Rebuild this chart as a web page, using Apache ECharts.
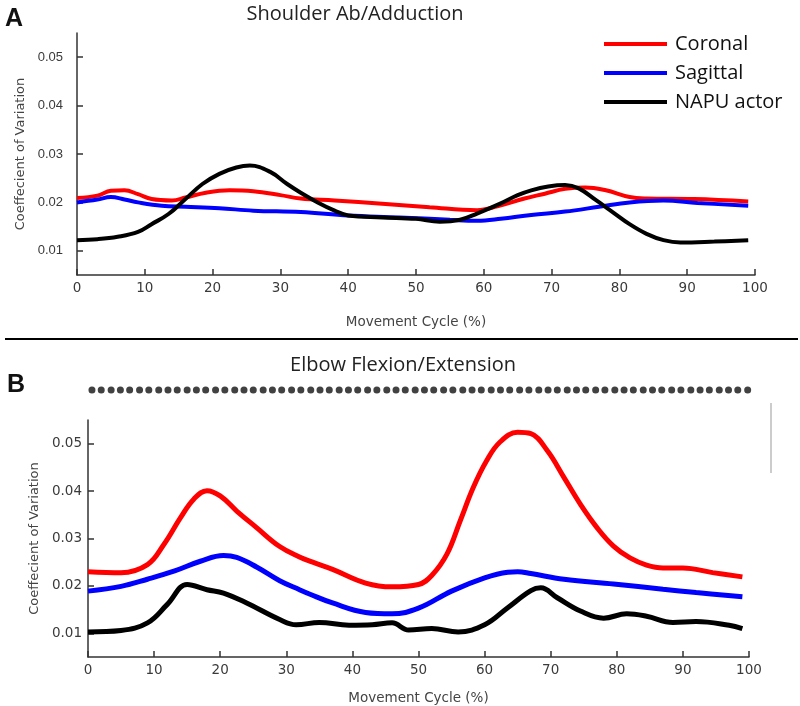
<!DOCTYPE html>
<html>
<head>
<meta charset="utf-8">
<script src="https://cdn.jsdelivr.net/npm/echarts@6/dist/echarts.min.js"></script>
<style>
  html, body { margin: 0; padding: 0; background: #fff; }
  #chart { width: 800px; height: 706px; }
</style>
</head>
<body>
<div id="chart"></div>
<script>
// ---- data: [movement cycle %, coefficient of variation] ----
const seriesNames = ['Coronal', 'Sagittal', 'NAPU actor']
const seriesColors = ['#ff0000', '#0000ff', '#000000']

// A: shoulder ab/adduction
const shoulderCoronal = [
  [0, 0.0209], [3, 0.0214], [5, 0.0224], [7, 0.0225], [9, 0.0217], [11, 0.0207], [14, 0.0204],
  [16, 0.0210], [19, 0.0220], [22.5, 0.0225], [26, 0.0223], [30, 0.0215], [33, 0.0208], [38, 0.0204],
  [45, 0.0197], [52, 0.0190], [59, 0.0184], [62, 0.0192], [66, 0.0208], [69, 0.0218], [72, 0.0228],
  [75, 0.0231], [78, 0.0225], [81.5, 0.0211], [84, 0.0208], [91, 0.0207], [99, 0.0202]
]
const shoulderSagittal = [
  [0, 0.0200], [3, 0.0206], [5, 0.0211], [7, 0.0206], [9, 0.0200], [12.5, 0.0193], [16, 0.0191],
  [21, 0.0188], [26, 0.0183], [33, 0.0180], [40, 0.0173], [47.5, 0.0169], [55, 0.0164], [59, 0.0162],
  [62.5, 0.0166], [67, 0.0174], [72, 0.0181], [77, 0.0191], [81.5, 0.0200], [86.5, 0.0204],
  [91.5, 0.0199], [99, 0.0193]
]
const shoulderNapu = [
  [0, 0.0122], [3, 0.0124], [6, 0.0129], [9, 0.0139], [11, 0.0155], [13.5, 0.0176], [16, 0.0207],
  [18.5, 0.0238], [21, 0.0259], [23.5, 0.0272], [25.5, 0.0276], [28.5, 0.0263], [31, 0.0238],
  [33, 0.0220], [35.5, 0.0200], [38, 0.0183], [40, 0.0173], [45, 0.0169], [50, 0.0166], [53.5, 0.0160],
  [56.5, 0.0164], [59, 0.0177], [62.5, 0.0198], [65, 0.0215], [67, 0.0225], [69.5, 0.0233], [72, 0.0236],
  [74, 0.0229], [76.5, 0.0205], [79, 0.0180], [81.5, 0.0155], [84, 0.0135], [86.5, 0.0122], [89, 0.0117],
  [94, 0.0119], [99, 0.0122]
]

// B: elbow flexion/extension
const elbowCoronal = [
  [0, 0.0230], [5, 0.0228], [9, 0.0245], [11.5, 0.0288], [14, 0.0344], [16, 0.0383], [18, 0.0401],
  [20, 0.0390], [22.5, 0.0358], [25.5, 0.0323], [29, 0.0283], [32, 0.0261], [34, 0.0250], [37, 0.0235],
  [42, 0.0206], [46, 0.0198], [50, 0.0203], [52, 0.0222], [54.3, 0.0267], [56.3, 0.0337], [58.3, 0.0408],
  [60.3, 0.0464], [62.3, 0.0503], [65, 0.0524], [67, 0.0521], [69.5, 0.0485], [72, 0.0429], [74.5, 0.0372],
  [77, 0.0323], [79.5, 0.0284], [82, 0.0259], [84.5, 0.0244], [87, 0.0238], [90, 0.0238], [94.5, 0.0228],
  [99, 0.0219]
]
const elbowSagittal = [
  [0, 0.0189], [5, 0.0199], [9, 0.0214], [13, 0.0231], [17, 0.0252], [20.5, 0.0264], [22.5, 0.0260],
  [25.5, 0.0240], [29, 0.0211], [32, 0.0192], [33.5, 0.0183], [37, 0.0164], [42, 0.0144], [46, 0.0141],
  [50, 0.0153], [55, 0.0189], [60, 0.0217], [63.5, 0.0229], [65, 0.0230], [67, 0.0226], [72, 0.0214],
  [79.5, 0.0204], [87, 0.0193], [92, 0.0186], [99, 0.0177]
]
const elbowNapu = [
  [0, 0.0103], [5, 0.0106], [9, 0.0122], [12, 0.0161], [15, 0.0203], [18, 0.0192], [20.5, 0.0185],
  [24, 0.0164], [29, 0.0129], [31.5, 0.0118], [35, 0.0123], [39.5, 0.0117], [43, 0.0118], [46, 0.0122],
  [48.5, 0.0107], [52, 0.0110], [56, 0.0103], [60, 0.0118], [63.5, 0.0154], [67, 0.0190], [68.5, 0.0196],
  [71, 0.0175], [74.5, 0.0147], [78, 0.0132], [81.5, 0.0141], [84.5, 0.0136], [88.5, 0.0123], [92, 0.0125],
  [97, 0.0117], [99, 0.0110]
]

// significance markers above panel B (x positions, %)
const elbowSignificant = [
  0.6, 2.0, 3.5, 4.9, 6.3, 7.8, 9.2, 10.7, 12.1, 13.5, 15.0, 16.4, 17.8, 19.3, 20.7, 22.2, 23.6, 25.0,
  26.5, 27.9, 29.3, 30.8, 32.2, 33.7, 35.1, 36.5, 38.0, 39.4, 40.8, 42.3, 43.7, 45.2, 46.6, 48.0, 49.5,
  50.9, 52.3, 53.8, 55.2, 56.7, 58.1, 59.5, 61.0, 62.4, 63.8, 65.3, 66.7, 68.2, 69.6, 71.0, 72.5, 73.9,
  75.3, 76.8, 78.2, 79.7, 81.1, 82.5, 84.0, 85.4, 86.8, 88.3, 89.7, 91.2, 92.6, 94.0, 95.5, 96.9, 98.3, 99.8
]

const yTicks = [0.01, 0.02, 0.03, 0.04, 0.05]

const axisFont = 'DejaVu Sans'
const axisColor = '#3a3a3a'

const makeX = (gridIndex, nameGap, labelMargin) => ({
  type: 'value', gridIndex, min: 0, max: 100, interval: 10,
  name: 'Movement Cycle (%)', nameLocation: 'middle', nameGap,
  nameTextStyle: { color: '#444', fontFamily: axisFont, fontSize: 13.5 },
  axisLine: { show: true, lineStyle: { color: '#333', width: 1.5 } },
  axisTick: { show: true, inside: true, length: 6, lineStyle: { color: '#333', width: 1.5 } },
  axisLabel: { color: axisColor, fontFamily: axisFont, fontSize: 13.5, margin: labelMargin,
    showMinLabel: true, showMaxLabel: true },
  splitLine: { show: false }
})

const makeY = (gridIndex, nameGap, labelMargin, labelFont, labelSize) => ({
  type: 'value', gridIndex, min: 0.005, max: 0.055,
  name: 'Coeffecient of Variation', nameLocation: 'middle', nameGap,
  nameTextStyle: { color: '#444', fontFamily: axisFont, fontSize: 13 },
  axisLine: { show: true, lineStyle: { color: '#333', width: 1.5 } },
  axisTick: { show: true, inside: true, length: 6, customValues: yTicks, lineStyle: { color: '#333', width: 1.5 } },
  axisLabel: { color: axisColor, fontFamily: labelFont, fontSize: labelSize, margin: labelMargin,
    customValues: yTicks, formatter: v => v.toFixed(2) },
  splitLine: { show: false }
})

const lineSeries = (name, data, color, idx, width) => ({
  name, type: 'line', data, xAxisIndex: idx, yAxisIndex: idx,
  smooth: 0.4, showSymbol: false, symbol: 'none', silent: true,
  lineStyle: { color, width }, itemStyle: { color }
})

const chart = echarts.init(document.getElementById('chart'), null, { renderer: 'canvas' })

chart.setOption({
  animation: false,
  backgroundColor: '#fff',
  title: [
    { text: 'Shoulder Ab/Adduction', left: 350, top: -1, textAlign: 'center',
      textStyle: { fontFamily: 'Open Sans', fontSize: 20, fontWeight: 'normal', color: '#222' } },
    { text: 'Elbow Flexion/Extension', left: 398, top: 350, textAlign: 'center',
      textStyle: { fontFamily: 'Open Sans', fontSize: 20, fontWeight: 'normal', color: '#222' } },
    { text: 'A', left: 0, top: 2,
      textStyle: { fontFamily: 'Liberation Sans', fontSize: 25, fontWeight: 'bold', color: '#111' } },
    { text: 'B', left: 2, top: 368,
      textStyle: { fontFamily: 'Liberation Sans', fontSize: 25, fontWeight: 'bold', color: '#111' } }
  ],
  legend: {
    data: seriesNames, orient: 'vertical', left: 599, top: 29,
    icon: 'rect', itemWidth: 63, itemHeight: 4, itemGap: 9,
    textStyle: { fontFamily: 'Open Sans', fontSize: 20, lineHeight: 20, color: '#111', padding: [0, 0, 0, 3] },
    selectedMode: false
  },
  grid: [
    { left: 77, top: 33, width: 678, height: 242 },
    { left: 88, top: 420, width: 661, height: 237 },
    { left: 88, top: 385, width: 661, height: 10 }
  ],
  xAxis: [
    makeX(0, 40, 6),
    makeX(1, 34, 6),
    { type: 'value', gridIndex: 2, min: 0, max: 100, show: false }
  ],
  yAxis: [
    makeY(0, 47, 14, 'Liberation Sans', 13),
    makeY(1, 44, 6, axisFont, 13.5),
    { type: 'value', gridIndex: 2, min: 0, max: 1, show: false }
  ],
  graphic: [
    { type: 'line', shape: { x1: 5, y1: 339, x2: 798, y2: 339 }, style: { stroke: '#000', lineWidth: 2 } },
    { type: 'line', shape: { x1: 771, y1: 403, x2: 771, y2: 473 }, style: { stroke: '#ccc', lineWidth: 2 } }
  ],
  series: [
    lineSeries(seriesNames[0], shoulderCoronal, seriesColors[0], 0, 4),
    lineSeries(seriesNames[1], shoulderSagittal, seriesColors[1], 0, 4),
    lineSeries(seriesNames[2], shoulderNapu, seriesColors[2], 0, 4),
    lineSeries(seriesNames[0], elbowCoronal, seriesColors[0], 1, 5),
    lineSeries(seriesNames[1], elbowSagittal, seriesColors[1], 1, 5),
    lineSeries(seriesNames[2], elbowNapu, seriesColors[2], 1, 5),
    {
      name: 'significant', type: 'scatter', xAxisIndex: 2, yAxisIndex: 2, silent: true,
      symbol: 'circle', symbolSize: 7, itemStyle: { color: '#111' },
      data: elbowSignificant.map(x => [x, 0.5])
    }
  ]
})
</script>
</body>
</html>
